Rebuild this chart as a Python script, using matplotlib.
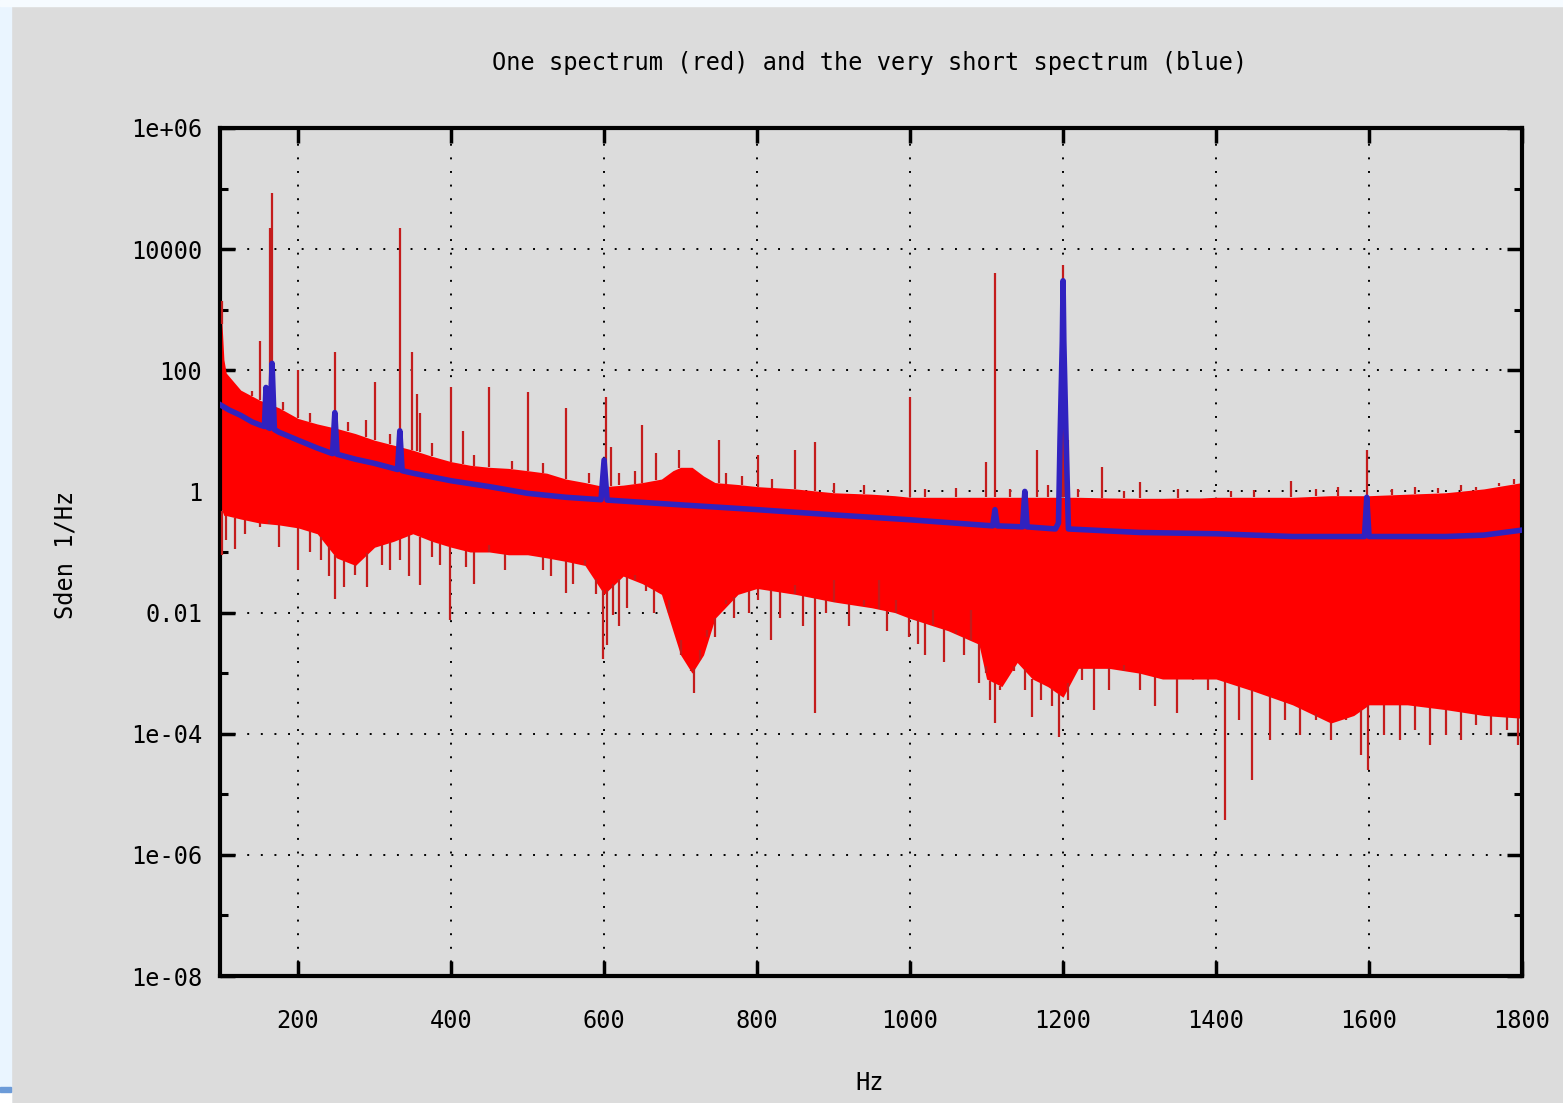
import numpy as np
import matplotlib.pyplot as plt
from matplotlib.patches import Rectangle
from matplotlib.ticker import FixedLocator, NullFormatter

plt.rcParams['font.family'] = ['DejaVu Sans Mono']

# very short spectrum (blue), Hz -> Sden
blue_hz = [98, 110, 125, 140, 150, 156, 158, 160, 163, 166, 169, 175, 200, 225, 245, 248, 251,
           275, 300, 330, 333, 336, 350, 400, 450, 500, 550, 596, 600, 604, 700, 800, 900,
           1000, 1108, 1111, 1114, 1147, 1150, 1153, 1190, 1194, 1196, 1199, 1200, 1201,
           1204, 1207, 1300, 1400, 1500, 1594, 1597, 1600, 1700, 1750, 1800]
blue_val = [27, 22, 18, 14, 12.5, 11.8, 52, 11.5, 11, 130, 10.5, 9.5, 7, 5.2, 4.2, 20, 4.1,
            3.4, 2.9, 2.3, 10, 2.2, 2.0, 1.5, 1.2, 0.93, 0.8, 0.73, 3.3, 0.72, 0.6, 0.5, 0.41,
            0.34, 0.27, 0.5, 0.27, 0.26, 1.0, 0.26, 0.24, 0.3, 7, 300, 3000, 300,
            7, 0.24, 0.21, 0.2, 0.18, 0.18, 0.8, 0.18, 0.18, 0.19, 0.23]

# one spectrum (red): the dense band, Hz -> upper / lower edge
band_hz = [98, 100, 103, 106, 125, 150, 175, 200, 225, 250, 275, 300, 325, 350, 375, 400,
           425, 450, 475, 500, 525, 550, 575, 600, 625, 650, 675, 690, 700, 715, 730, 745,
           775, 800, 850, 900, 950, 980, 1000, 1050, 1090, 1100, 1120, 1140, 1160, 1180,
           1200, 1220, 1260, 1300, 1330, 1360, 1380, 1400, 1450, 1500, 1550, 1580, 1600,
           1650, 1700, 1750, 1800]
band_top = [1000, 800, 150, 90, 47, 32, 24, 16, 13, 11, 9, 7, 5.8, 4.8, 3.8, 3.1,
            2.7, 2.5, 2.4, 2.2, 2.0, 1.6, 1.4, 1.2, 1.27, 1.4, 1.6, 2.2, 2.5, 2.5, 1.8, 1.4,
            1.3, 1.2, 1.1, 0.95, 0.9, 0.85, 0.8, 0.8, 0.8, 0.8, 0.8, 0.8, 0.8, 0.8,
            0.8, 0.8, 0.78, 0.77, 0.77, 0.78, 0.78, 0.8, 0.8, 0.8, 0.85, 0.85, 0.85,
            0.9, 0.95, 1.1, 1.4]
band_low = [0.6, 0.5, 0.4, 0.4, 0.35, 0.3, 0.28, 0.25, 0.2, 0.08, 0.06, 0.12, 0.15, 0.2, 0.15, 0.12,
            0.1, 0.1, 0.09, 0.09, 0.08, 0.07, 0.06, 0.02, 0.04, 0.03, 0.02, 0.005, 0.002, 0.001, 0.002, 0.008,
            0.02, 0.025, 0.02, 0.015, 0.012, 0.01, 0.008, 0.005, 0.003, 0.0008, 0.0006, 0.0015, 0.0008, 0.0006,
            0.0004, 0.0012, 0.0012, 0.001, 0.0008, 0.0008, 0.0008, 0.0008, 0.0005, 0.0003, 0.00015, 0.0002, 0.0003,
            0.0003, 0.00025, 0.0002, 0.00018]

# lines standing above the band
up_hz = [101, 120, 140, 150, 163, 166, 180, 200, 215, 248, 265, 289, 300, 320, 333, 349, 356,
         360, 375, 400, 416, 430, 450, 480, 500, 520, 550, 580, 602, 609, 620, 640, 650, 668,
         698, 750, 760, 780, 801, 820, 850, 876, 900, 940, 1000, 1020, 1060, 1099, 1111, 1130,
         1166, 1180, 1198, 1200, 1203, 1207, 1220, 1251, 1280, 1300, 1350, 1420, 1450, 1498,
         1530, 1560, 1597, 1630, 1660, 1690, 1720, 1740, 1770, 1790]
up_top = [1400, 60, 45, 300, 22000, 85000, 30, 100, 20, 200, 14, 15, 63, 9, 22000, 200, 40,
          20, 6.3, 52, 10, 4, 52, 3.2, 44, 3, 24, 2, 36, 5.4, 2, 2.2, 12.6, 4.3,
          4.8, 7, 2, 1.8, 4, 1.6, 4.8, 6.6, 1.4, 1.3, 36, 1.1, 1.15, 3.1, 4000, 1.1,
          4.8, 1.3, 210, 5500, 15, 7, 1.1, 2.5, 1.0, 1.45, 1.1, 1.0, 1.05, 1.5,
          1.1, 1.2, 4.8, 1.1, 1.2, 1.15, 1.3, 1.2, 1.4, 1.6]

# lines hanging below the band
down_hz = [101, 106, 118, 130, 150, 162, 175, 200, 215, 230, 240, 248, 260, 275, 290, 310,
           320, 333, 345, 360, 375, 385, 399, 420, 430, 450, 470, 500, 520, 530, 550, 560,
           575, 590, 598, 604, 612, 620, 630, 640, 655, 665, 685, 700, 713, 718, 725, 735,
           745, 760, 770, 790, 801, 818, 830, 850, 860, 876, 890, 900, 920, 940, 960, 970,
           982, 999, 1010, 1020, 1030, 1045, 1060, 1070, 1080, 1090, 1099, 1105, 1111,
           1118, 1136, 1150, 1160, 1171, 1185, 1195, 1207, 1225, 1240, 1260, 1280, 1300,
           1320, 1349, 1370, 1390, 1412, 1430, 1447, 1470, 1490, 1510, 1530, 1550, 1570,
           1590, 1599, 1620, 1640, 1660, 1680, 1700, 1720, 1740, 1760, 1780, 1795]
down_bottom = [0.089, 0.16, 0.11, 0.2, 0.26, 0.34, 0.12, 0.05, 0.1, 0.074, 0.04, 0.017,
               0.026, 0.042, 0.026, 0.06, 0.05, 0.074, 0.04, 0.028, 0.083, 0.06, 0.0076,
               0.056, 0.03, 0.13, 0.05, 0.089, 0.05, 0.04, 0.021, 0.03, 0.074, 0.02,
               0.0017, 0.0029, 0.0091, 0.006, 0.012, 0.042, 0.023, 0.01, 0.016, 0.0035,
               0.0011, 0.00047, 0.0024, 0.0051, 0.004, 0.016, 0.008, 0.01, 0.016, 0.0035,
               0.008, 0.028, 0.006, 0.00022, 0.01, 0.035, 0.006, 0.016, 0.035, 0.005, 0.016,
               0.004, 0.003, 0.002, 0.011, 0.0015, 0.0051, 0.002, 0.011, 0.0007, 0.0013,
               0.00036, 0.00015, 0.00053, 0.0011, 0.00053, 0.00019, 0.00036, 0.00029,
               0.000089, 0.00036, 0.00078, 0.00025, 0.00053, 0.00136, 0.00053, 0.00029,
               0.00022, 0.00078, 0.00053, 0.0000038, 0.00017, 0.000017, 0.00008, 0.00017,
               0.000096, 0.00017, 0.00008, 0.00017, 0.000045, 0.000025, 0.000096, 0.00008,
               0.000115, 0.000065, 0.000096, 0.00008, 0.00014, 0.000096, 0.000115, 0.000065]

x_ticks = [200, 400, 600, 800, 1000, 1200, 1400, 1600, 1800]
y_ticks = [1e-8, 1e-6, 1e-4, 1e-2, 1, 1e2, 1e4, 1e6]
y_labels = ['1e-08', '1e-06', '1e-04', '0.01', '1', '100', '10000', '1e+06']
y_minor = [1e-7, 1e-5, 1e-3, 1e-1, 1e1, 1e3, 1e5]

bg = '#dcdcdc'
fig = plt.figure(figsize=(15.63, 11.03), dpi=100, facecolor=bg)
# page edges around the gnuplot canvas
fig.patches.append(Rectangle((0, 0), 11 / 1563, 1, transform=fig.transFigure,
                             color='#eaf5ff', zorder=0))
fig.patches.append(Rectangle((0, 1 - 6 / 1103), 1, 6 / 1103, transform=fig.transFigure,
                             color='#f6fbff', zorder=0))
fig.patches.append(Rectangle((0, 0), 11 / 1563, 1 - 1092 / 1103, transform=fig.transFigure,
                             color='white', zorder=0))
fig.patches.append(Rectangle((0, 1 - 1092 / 1103), 11 / 1563, 5 / 1103,
                             transform=fig.transFigure, color='#6c9bd8', zorder=0))

ax = fig.add_axes([0.1408, 0.1151, 0.833, 0.7689])
ax.set_facecolor(bg)
ax.set_yscale('log')
ax.set_xlim(98, 1800)
ax.set_ylim(1e-8, 1e6)
ax.set_axisbelow(True)

red = '#ff0000'
dark_red = '#c41c1c'
ax.fill_between(band_hz, band_low, band_top, color=red, lw=0, zorder=2)
up_base = np.interp(up_hz, band_hz, band_top)
ax.vlines(up_hz, up_base, up_top, color=dark_red, lw=1.6, zorder=3)
down_base = np.interp(down_hz, band_hz, band_low)
ax.vlines(down_hz, down_bottom, down_base, color=dark_red, lw=1.6, zorder=3)

ax.plot(blue_hz, blue_val, color='#3022c0', lw=4, zorder=4)

ax.set_xticks(x_ticks)
ax.set_yticks(y_ticks, y_labels)
ax.yaxis.set_minor_locator(FixedLocator(y_minor))
ax.yaxis.set_minor_formatter(NullFormatter())
ax.xaxis.set_minor_locator(FixedLocator([]))
ax.grid(True, which='major', color='black', linestyle=(0, (1, 6)), linewidth=1.4)

ax.tick_params(which='major', direction='in', length=11, width=2.5,
               top=True, right=True, labelsize=17)
ax.tick_params(which='minor', direction='in', length=6, width=2.2, left=True, right=True)
ax.tick_params(axis='x', pad=24)
ax.tick_params(axis='y', pad=13)
for s in ax.spines.values():
    s.set_linewidth(3)

fig.text(0.5566, 0.943, 'One spectrum (red) and the very short spectrum (blue)',
         ha='center', va='center', fontsize=17)
fig.text(0.5566, 0.0181, 'Hz', ha='center', va='center', fontsize=17)
fig.text(0.0416, 0.497, 'Sden 1/Hz', ha='center', va='center', rotation=90, fontsize=17)

fig.savefig('out.png', dpi=100, facecolor=bg)
